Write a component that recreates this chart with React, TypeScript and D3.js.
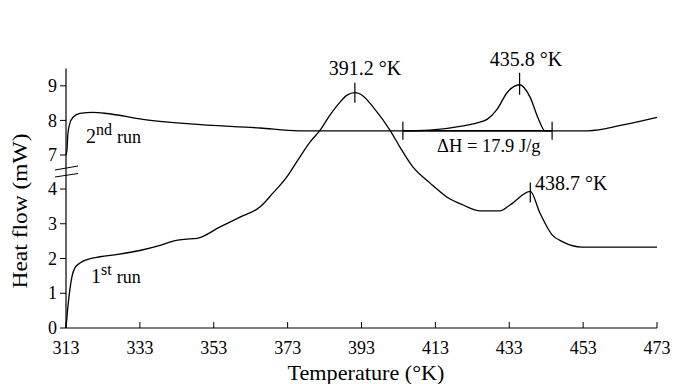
import * as d3 from "d3";

// 1st run (temperature °K, heat flow mW)
const RUN1_T = [313, 313.6, 314.6, 315.4, 316.8, 318.7, 322.2, 327, 333, 338, 342, 345, 348.5, 354.7, 360.1, 365.5, 369, 372.8, 376.3, 379.1, 381.8, 384.5, 387.2, 389.1, 391.2, 393.5, 396.1, 400.7, 403.4, 406.9, 411.5, 416.1, 420.5, 425.1, 430.5, 433.2, 438.7, 441.3, 444.6, 447.5, 452.7, 473];
const RUN1_V = [0, 0.7, 1.47, 1.73, 1.87, 1.97, 2.05, 2.12, 2.23, 2.36, 2.5, 2.55, 2.58, 2.91, 3.19, 3.48, 3.88, 5.07, 6.82, 7.38, 7.72, 8.16, 8.53, 8.73, 8.8, 8.7, 8.39, 7.72, 7.23, 5.95, 4.54, 3.77, 3.54, 3.37, 3.37, 3.54, 3.93, 3.31, 2.68, 2.48, 2.33, 2.33];

// 2nd run
const RUN2_T = [313, 313.3, 313.5, 314, 314.9, 316.8, 320.3, 324.1, 333.8, 346.6, 365.5, 376, 404.2, 411.5, 420.5, 424.3, 427, 429.7, 432.4, 435.8, 438.6, 440.8, 442.7, 454.3, 463.8, 473];
const RUN2_V = [7.0, 7.2, 7.6, 7.9, 8.09, 8.2, 8.23, 8.2, 8.03, 7.9, 7.78, 7.7, 7.7, 7.72, 7.84, 7.93, 8.03, 8.32, 8.8, 9.03, 8.68, 8.07, 7.7, 7.7, 7.87, 8.09];

const X_TICKS = [313, 333, 353, 373, 393, 413, 433, 453, 473];
const Y_TICKS = [0, 1, 2, 3, 4, 7, 8, 9];

// enthalpy integration limits on 2nd run
const DH_FROM = 404.2;
const DH_TO = 444.6;
const DH_LEVEL = 7.7;

const W = 674;
const H = 384;
const FONT = "Liberation Serif, DejaVu Serif, serif";

export default function App() {
  const x = d3.scaleLinear().domain([313, 473]).range([66, 657]);
  // broken axis: 4 -> 7 squeezed into one unit of height
  const y = d3.scaleLinear().domain([0, 4, 7, 9.5]).range([328, 189, 155, 68.5]);

  const line = d3
    .line<[number, number]>()
    .x((d) => x(d[0]))
    .y((d) => y(d[1]))
    .curve(d3.curveMonotoneX);

  const run1 = line(RUN1_T.map((t, i) => [t, RUN1_V[i]]) as [number, number][]) ?? "";
  const run2 = line(RUN2_T.map((t, i) => [t, RUN2_V[i]]) as [number, number][]) ?? "";

  const [x0, x1] = x.range();
  const y0 = y(0);
  const yTop = y(9.5);
  const txt = { fontFamily: FONT, fill: "#000" };

  const peakMark = (t: number, v: number, up: number, down: number) => (
    <line x1={x(t)} x2={x(t)} y1={y(v) - up} y2={y(v) + down} stroke="#000" strokeWidth={1.2} />
  );

  return (
    <svg width={W} height={H} style={{ position: "absolute", left: 0, top: 0, background: "#fff" }}>
      <rect width={W} height={H} fill="#fff" />

      {/* axes */}
      <line x1={x0} x2={x1} y1={y0} y2={y0} stroke="#000" strokeWidth={1.2} />
      <line x1={x0} x2={x0} y1={y0} y2={yTop} stroke="#000" strokeWidth={1.2} />

      {X_TICKS.map((t) => (
        <g key={t}>
          <line x1={x(t)} x2={x(t)} y1={y0} y2={y0 - 6} stroke="#000" strokeWidth={1} />
          <text x={x(t)} y={y0 + 26} textAnchor="middle" fontSize={18} style={txt}>
            {t}
          </text>
        </g>
      ))}

      {Y_TICKS.map((v) => (
        <g key={v}>
          <line x1={x0 - 6} x2={x0} y1={y(v)} y2={y(v)} stroke="#000" strokeWidth={1} />
          <text x={x0 - 9} y={y(v)} dy="0.34em" textAnchor="end" fontSize={18} style={txt}>
            {v}
          </text>
        </g>
      ))}

      {/* axis break */}
      <line x1={x0 - 11} x2={x0 + 12} y1={170} y2={166} stroke="#000" strokeWidth={1} />
      <line x1={x0 - 11} x2={x0 + 12} y1={177} y2={173.5} stroke="#000" strokeWidth={1} />

      <text x={366} y={380} textAnchor="middle" fontSize={21} textLength={157} lengthAdjust="spacingAndGlyphs" style={txt}>
        Temperature (°K)
      </text>
      <text
        transform="translate(27,211) rotate(-90)"
        textAnchor="middle"
        fontSize={21}
        textLength={155}
        lengthAdjust="spacingAndGlyphs"
        style={txt}
      >
        Heat flow (mW)
      </text>

      {/* curves */}
      <path d={run2} fill="none" stroke="#000" strokeWidth={1.3} />
      <path d={run1} fill="none" stroke="#000" strokeWidth={1.3} />

      {/* integration baseline and limits */}
      <line x1={x(DH_FROM)} x2={x(DH_TO)} y1={y(DH_LEVEL)} y2={y(DH_LEVEL)} stroke="#000" strokeWidth={1.8} />
      {peakMark(DH_FROM, DH_LEVEL, 9, 9)}
      {peakMark(DH_TO, DH_LEVEL, 9, 9)}

      {/* peak marks */}
      {peakMark(391.2, 8.8, 10, 10)}
      {peakMark(435.8, 9.03, 12, 10)}
      {peakMark(438.7, 3.93, 9, 11)}

      <text x={365} y={75} textAnchor="middle" fontSize={20} style={txt}>
        391.2 °K
      </text>
      <text x={526} y={66} textAnchor="middle" fontSize={20} style={txt}>
        435.8 °K
      </text>
      <text x={437} y={152} fontSize={18.5} style={txt}>
        ΔH = 17.9 J/g
      </text>
      <text x={535} y={190} fontSize={20} style={txt}>
        438.7 °K
      </text>

      <text x={86} y={143} fontSize={20} style={txt}>
        2
        <tspan dy={-8} fontSize={16}>nd</tspan>
        <tspan dy={8} dx={5} fontSize={18}>run</tspan>
      </text>
      <text x={91} y={283} fontSize={20} style={txt}>
        1
        <tspan dy={-8} fontSize={16}>st</tspan>
        <tspan dy={8} dx={5} fontSize={18}>run</tspan>
      </text>
    </svg>
  );
}
